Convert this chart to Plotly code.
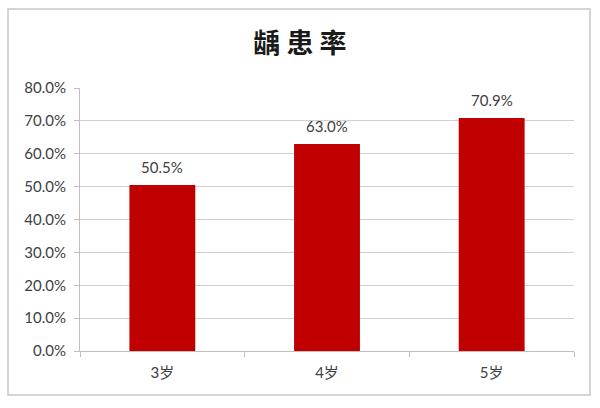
import plotly.graph_objects as go

categories = ["3岁", "4岁", "5岁"]
values = [0.505, 0.630, 0.709]
labels = ["50.5%", "63.0%", "70.9%"]

FONT = "Lato, Noto Sans CJK SC, sans-serif"

fig = go.Figure(go.Bar(
    x=categories, y=values, width=0.4,
    marker=dict(color="#c00000", line=dict(width=0)),
    cliponaxis=False,
))

W, H = 600, 408
L, R, T, B = 80, 26, 88, 57
pw, ph = W - L - R, H - T - B

def px(x):
    return (x - L) / pw

def py(y):
    return (H - B - y) / ph

annotations = [dict(x=c, y=v, text=t, showarrow=False, yanchor="bottom", yshift=7,
                    font=dict(family=FONT, size=15, color="#404040"))
               for c, v, t in zip(categories, values, labels)]

fig.update_layout(
    width=W, height=H,
    margin=dict(l=L, r=R, t=T, b=B, autoexpand=False),
    paper_bgcolor="white", plot_bgcolor="white",
    showlegend=False,
    title=dict(text="<b>龋 患 率</b>", x=0.5, xanchor="center", y=1 - 44 / H, yanchor="middle",
               font=dict(family="Noto Sans CJK SC", size=27, color="#1a1a1a")),
    xaxis=dict(
        tickson="boundaries", ticks="outside", ticklen=5, tickcolor="#bfbfbf",
        showline=True, linecolor="#bfbfbf", linewidth=1, showgrid=False,
        tickfont=dict(family=FONT, size=15, color="#404040"),
        ticklabelstandoff=8,
        automargin=False,
    ),
    yaxis=dict(
        range=[0, 0.8], dtick=0.1, tickformat=".1%",
        ticks="outside", ticklen=5, tickcolor="#bfbfbf",
        showline=True, linecolor="#bfbfbf", linewidth=1,
        showgrid=True, gridcolor="#d0d0d0", gridwidth=1,
        zeroline=False, automargin=False,
        ticklabelstandoff=5,
        tickfont=dict(family=FONT, size=15, color="#404040"),
    ),
    annotations=annotations,
    shapes=[dict(type="rect", xref="paper", yref="paper",
                 x0=px(8), x1=px(590), y0=py(395), y1=py(9),
                 line=dict(color="#c8c8c8", width=1.5), fillcolor="rgba(0,0,0,0)")],
)

fig.write_html("out.html", config={"displayModeBar": False},
               post_script="document.body.style.margin='0';document.body.style.overflow='hidden';")
